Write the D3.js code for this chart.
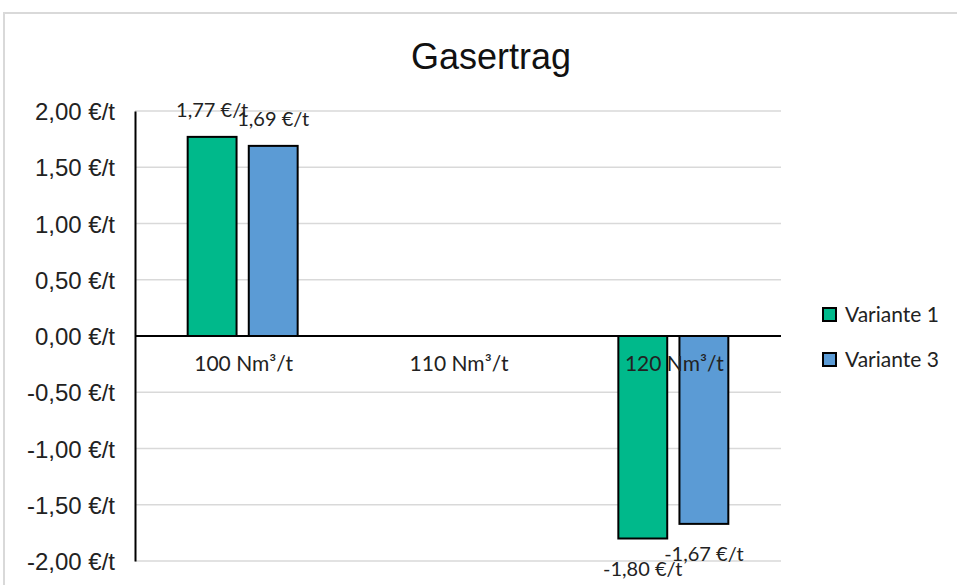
<!DOCTYPE html>
<html>
<head>
<meta charset="utf-8">
<script src="https://cdn.jsdelivr.net/npm/d3@7"></script>
<style>
  html, body { margin: 0; padding: 0; background: #fff; }
  svg { display: block; }
</style>
</head>
<body>
<svg id="chart" width="957" height="585"></svg>
<script>
// ---- data ----
const categories = ["100 Nm³/t", "110 Nm³/t", "120 Nm³/t"];
const seriesNames = ["Variante 1", "Variante 3"];
const variante1 = [1.77, null, -1.80];
const variante3 = [1.69, null, -1.67];
const yTicks = [-2, -1.5, -1, -0.5, 0, 0.5, 1, 1.5, 2];
const seriesColors = ["#00B98B", "#5B9BD5"];
const title = "Gasertrag";

const seriesValues = [variante1, variante3];

const svg = d3.select("#chart");
const W = 957, H = 585;
const plot = { left: 135, right: 781, top: 111, bottom: 561 };

const de = d3.formatLocale({ decimal: ",", thousands: ".", grouping: [3], currency: ["", " €"], minus: "-" });
const fmt = de.format(".2f");
const lbl = v => fmt(v) + " €/t";

// chart frame
svg.append("rect")
  .attr("x", 4).attr("y", 13)
  .attr("width", W + 10).attr("height", H + 10)
  .attr("fill", "#fff").attr("stroke", "#d9d9d9").attr("stroke-width", 2);

// title
svg.append("text")
  .attr("x", 491).attr("y", 69)
  .attr("text-anchor", "middle")
  .attr("font-family", "'Liberation Sans', Arial, sans-serif")
  .attr("font-size", 36)
  .attr("fill", "#111")
  .text(title);

const y = d3.scaleLinear().domain([-2, 2]).range([plot.bottom, plot.top]);
const x0 = d3.scaleBand().domain(categories).range([plot.left, plot.right]).padding(0);
const x1 = d3.scaleBand().domain(seriesNames).range([0, x0.bandwidth()])
  .paddingInner(0.2).paddingOuter(0.862);

// gridlines
svg.append("g").selectAll("line")
  .data(yTicks.filter(t => t !== 0))
  .join("line")
  .attr("x1", plot.left).attr("x2", plot.right)
  .attr("y1", d => y(d)).attr("y2", d => y(d))
  .attr("stroke", "#d9d9d9").attr("stroke-width", 1.5);

// y axis
const yAxis = d3.axisLeft(y).tickValues(yTicks).tickFormat(lbl).tickSize(0).tickPadding(20);
const gy = svg.append("g").attr("transform", `translate(${plot.left},0)`).call(yAxis);
gy.select(".domain").attr("stroke", "#000").attr("stroke-width", 2);
gy.selectAll("text")
  .attr("font-family", "'Liberation Sans', Arial, sans-serif")
  .attr("font-size", 24)
  .attr("fill", "#222")
  .attr("dy", "0.36em");

// bars
const rows = categories.map((c, i) => ({ cat: c, vals: seriesNames.map((s, j) => ({ s, j, v: seriesValues[j][i] })) }));
const groups = svg.append("g").selectAll("g")
  .data(rows).join("g")
  .attr("transform", d => `translate(${x0(d.cat)},0)`);

groups.selectAll("rect")
  .data(d => d.vals.filter(e => e.v !== null))
  .join("rect")
  .attr("x", d => x1(d.s))
  .attr("width", x1.bandwidth())
  .attr("y", d => y(Math.max(0, d.v)))
  .attr("height", d => Math.abs(y(d.v) - y(0)))
  .attr("fill", d => seriesColors[d.j])
  .attr("stroke", "#000").attr("stroke-width", 2);

// zero line
svg.append("line")
  .attr("x1", plot.left).attr("x2", plot.right)
  .attr("y1", y(0)).attr("y2", y(0))
  .attr("stroke", "#000").attr("stroke-width", 2);

// category labels
svg.append("g").selectAll("text")
  .data(categories).join("text")
  .attr("x", d => x0(d) + x0.bandwidth() / 2 + 1)
  .attr("y", y(0) + 35)
  .attr("text-anchor", "middle")
  .attr("font-family", "Lato, 'Open Sans', sans-serif")
  .attr("font-size", 21)
  .attr("fill", "#222")
  .text(d => d);

// data labels
groups.selectAll("text.dl")
  .data(d => d.vals.filter(e => e.v !== null))
  .join("text")
  .attr("class", "dl")
  .attr("x", d => x1(d.s) + x1.bandwidth() / 2)
  .attr("y", d => d.v >= 0 ? y(d.v) - 20 : y(d.v) + 37)
  .attr("text-anchor", "middle")
  .attr("font-family", "Lato, 'Open Sans', sans-serif")
  .attr("font-size", 20)
  .attr("fill", "#222")
  .text(d => lbl(d.v));

// legend
const lg = svg.append("g").selectAll("g")
  .data(seriesNames).join("g")
  .attr("transform", (d, i) => `translate(822,${307 + i * 45})`);
lg.append("rect")
  .attr("x", 1).attr("y", 1).attr("width", 13).attr("height", 13)
  .attr("fill", (d, i) => seriesColors[i])
  .attr("stroke", "#000").attr("stroke-width", 2);
lg.append("text")
  .attr("x", 23).attr("y", 14.5)
  .attr("font-family", "Lato, 'Open Sans', sans-serif")
  .attr("font-size", 21)
  .attr("fill", "#222")
  .text(d => d);
</script>
</body>
</html>
